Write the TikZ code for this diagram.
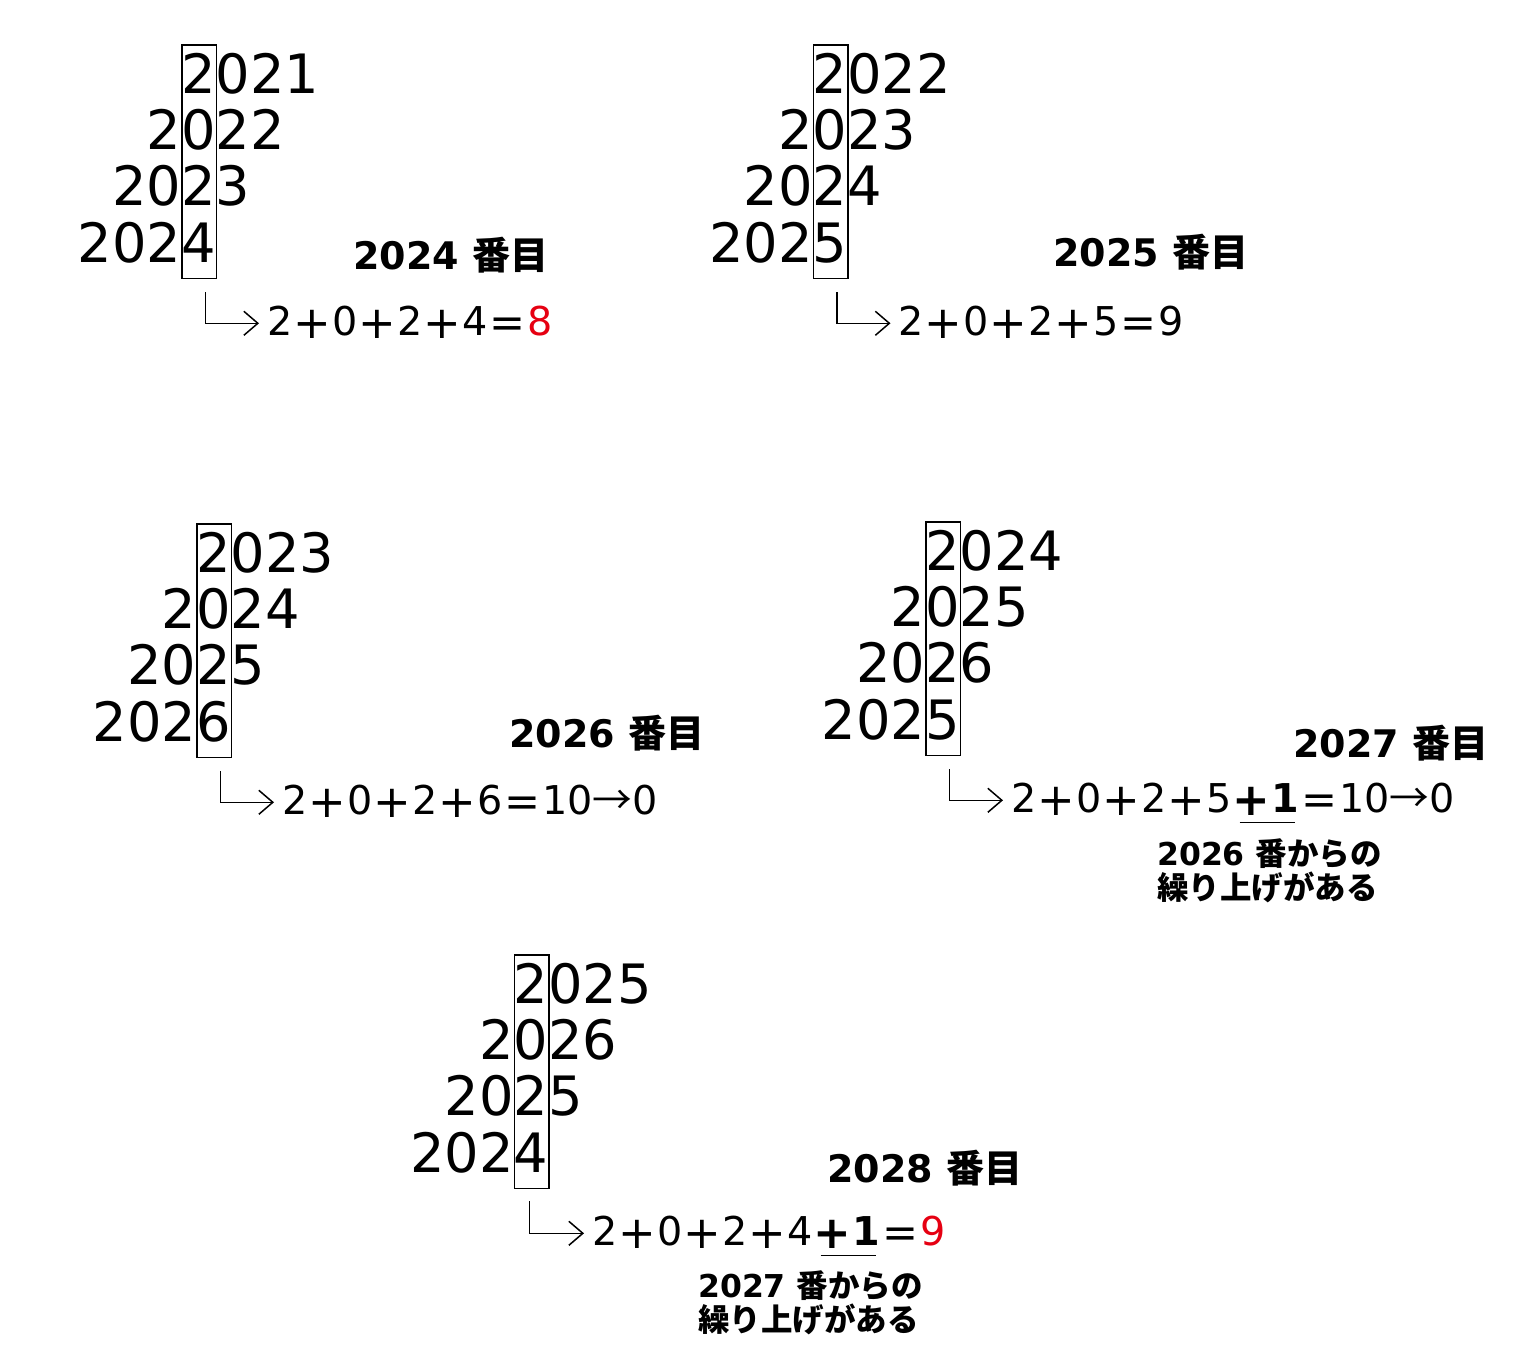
\documentclass[tikz,border=0pt]{standalone}
\usepackage{fontspec}
\setmainfont{DejaVu Sans}
\newfontfamily\jpf{Noto Sans CJK JP}
\usetikzlibrary{arrows.meta,calc}
\definecolor{accent}{RGB}{230,0,18}
\newcommand\pl{\makebox[39.7pt]{\raisebox{-3pt}{\fontsize{45}{45}\selectfont +}}}
\newcommand\eqs{\makebox[39.7pt]{\raisebox{-2pt}{\fontsize{43}{43}\selectfont =}}}
\newcommand\rarr{{\jpf →}}
\newcommand\ban[1]{{\jpf #1}}
\newcommand\yearblock[7]{%
  \node[colbox] (#1box) at (#2,#3) {};
  \node[yr] (#1ya) at (#2,#3+49.5) {#4};
  \node[yr] (#1yb) at (#2-34.5,#3+105) {#5};
  \node[yr] (#1yc) at (#2-69,#3+161.5) {#6};
  \node[yr] (#1yd) at (#2-103.5,#3+218.5) {#7};
}
\begin{document}
\begin{tikzpicture}[x=1pt,y=-1pt,
  yr/.style={anchor=base west, inner sep=0pt, font=\fontsize{54.25}{60}\selectfont},
  colbox/.style={draw, line width=1.8pt, minimum width=34.5pt, minimum height=233.5pt, inner sep=0pt, anchor=north west},
  conn/.style={line width=1.5pt, -{Straight Barb[length=14pt,width=24pt,line width=1.5pt]}},
  eqn/.style={anchor=base west, inner sep=0pt, font=\fontsize{39.7}{44}\selectfont},
  ttl/.style={anchor=base west, inner sep=0pt, font=\fontsize{38}{42}\selectfont\bfseries},
  note/.style={anchor=base west, inner sep=0pt, font=\fontsize{31.5}{34}\selectfont\bfseries},
  uline/.style={line width=1.4pt}]
\fill[white] (0,0) rectangle (1528,1369);
\useasboundingbox (0,0) rectangle (1528,1369);

% ---------- block 1 ----------
\yearblock{b1}{181}{44}{2021}{2022}{2023}{2024}
\coordinate (b1s) at ($(b1box.south west)+(24.5,13)$);
\coordinate (b1c) at ($(b1s)+(0,31)$);
\coordinate (b1t) at ($(b1c)+(53.5,0)$);
\draw[conn] (b1s) -- (b1c) -- (b1t);
\node[eqn] (b1eq) at ($(b1t)+(8,12)$) {2\pl0\pl2\pl4\eqs\textcolor{accent}{8}};
\node[ttl] (b1ttl) at (353,269) {2024 \ban{番目}};

% ---------- block 2 ----------
\yearblock{b2}{812.5}{44}{2022}{2023}{2024}{2025}
\coordinate (b2s) at ($(b2box.south west)+(24.5,13)$);
\coordinate (b2c) at ($(b2s)+(0,31)$);
\coordinate (b2t) at ($(b2c)+(53.5,0)$);
\draw[conn] (b2s) -- (b2c) -- (b2t);
\node[eqn] (b2eq) at ($(b2t)+(8,12)$) {2\pl0\pl2\pl5\eqs9};
\node[ttl] (b2ttl) at (1053,266) {2025 \ban{番目}};

% ---------- block 3 ----------
\yearblock{b3}{196}{523}{2023}{2024}{2025}{2026}
\coordinate (b3s) at ($(b3box.south west)+(24.5,13)$);
\coordinate (b3c) at ($(b3s)+(0,31)$);
\coordinate (b3t) at ($(b3c)+(53.5,0)$);
\draw[conn] (b3s) -- (b3c) -- (b3t);
\node[eqn] (b3eq) at ($(b3t)+(8,12)$) {2\pl0\pl2\pl6\eqs10\rarr0};
\node[ttl] (b3ttl) at (509,747) {2026 \ban{番目}};

% ---------- block 4 ----------
\yearblock{b4}{925}{521}{2024}{2025}{2026}{2025}
\coordinate (b4s) at ($(b4box.south west)+(24.5,13)$);
\coordinate (b4c) at ($(b4s)+(0,31)$);
\coordinate (b4t) at ($(b4c)+(53.5,0)$);
\draw[conn] (b4s) -- (b4c) -- (b4t);
\node[eqn] (b4eqa) at ($(b4t)+(8,12)$) {2\pl0\pl2\pl5};
\node[eqn] (b4eqb) at (b4eqa.base east) {\bfseries\pl1};
\node[eqn] (b4eqc) at (b4eqb.base east) {\eqs10\rarr0};
\draw[uline] ($(b4eqb.base west)+(8,10)$) -- ($(b4eqb.base east)+(-4,10)$);
\node[ttl] (b4ttl) at (1293,757) {2027 \ban{番目}};
\node[note] (b4n1) at (1157,865) {2026 \ban{番からの}};
\node[note] (b4n2) at (1157,899) {\ban{繰り上げがある}};

% ---------- block 5 ----------
\yearblock{b5}{513.5}{954}{2025}{2026}{2025}{2024}
\coordinate (b5s) at ($(b5box.south west)+(16,12)$);
\coordinate (b5c) at ($(b5s)+(0,32)$);
\coordinate (b5t) at ($(b5c)+(54.5,0)$);
\draw[conn] (b5s) -- (b5c) -- (b5t);
\node[eqn] (b5eqa) at ($(b5t)+(8,12)$) {2\pl0\pl2\pl4};
\node[eqn] (b5eqb) at (b5eqa.base east) {\bfseries\pl1};
\node[eqn] (b5eqc) at (b5eqb.base east) {\eqs\textcolor{accent}{9}};
\draw[uline] ($(b5eqb.base west)+(8,10)$) -- ($(b5eqb.base east)+(-4,10)$);
\node[ttl] (b5ttl) at (827,1182) {2028 \ban{番目}};
\node[note] (b5n1) at (698,1297) {2027 \ban{番からの}};
\node[note] (b5n2) at (698,1331) {\ban{繰り上げがある}};
\end{tikzpicture}
\end{document}
